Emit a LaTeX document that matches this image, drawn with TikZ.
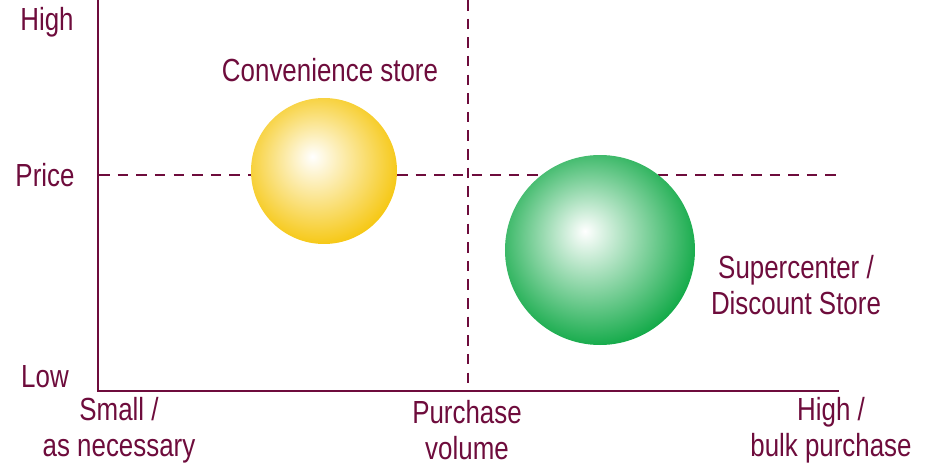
\documentclass[tikz,border=0pt]{standalone}
\usepackage{fontspec}
\setmainfont[FakeStretch=0.81]{Liberation Sans}

\definecolor{vinaccia}{RGB}{110,12,60}
\definecolor{giallo}{RGB}{245,195,0}
\definecolor{verde}{RGB}{0,163,58}

\pgfdeclareradialshading{sferagialla}{\pgfpoint{-4bp}{5bp}}{color(0bp)=(white); color(30bp)=(giallo); color(50bp)=(giallo)}
\pgfdeclareradialshading{sferaverde}{\pgfpoint{-4bp}{5bp}}{color(0bp)=(white); color(30bp)=(verde); color(50bp)=(verde)}

\tikzset{
    etichetta/.style={text=vinaccia, align=center, inner sep=0pt,
        font=\fontsize{9.1}{10.2}\selectfont},
    asse/.style={vinaccia, line width=0.85pt},
    guida/.style={vinaccia, line width=0.6pt, dash pattern=on 3pt off 2.3pt}
}

\begin{document}
\begin{tikzpicture}
        \useasboundingbox (0,0) rectangle (9.37,4.67);

        % Punti degli assi
        \coordinate (O) at (0.98,0.76);
        \coordinate (ytop) at (0.98,4.67);
        \coordinate (xend) at (8.39,0.76);
        \coordinate (vtop) at (4.68,4.67);
        \coordinate (vbot) at (4.68,0.76);
        \coordinate (hsx) at (0.99,2.92);
        \coordinate (hdx) at (8.39,2.92);

        % Linee tratteggiate
        \draw[guida] (vtop) -- (vbot);
        \draw[guida] (hsx) -- (hdx);

        % Sfere
        \shade[shading=sferagialla] (3.24,2.96) circle (0.73);
        \shade[shading=sferaverde] (6.00,2.17) circle (0.95);

        % Assi
        \draw[asse] (ytop) -- (O) -- (xend);

        % Etichette asse y
        \node[etichetta] (alto) at (0.47,4.45) {High};
        \node[etichetta] (prezzo) at (0.45,2.92) {Price};
        \node[etichetta] (basso) at (0.45,0.90) {Low};

        % Etichette asse x
        \node[etichetta] (piccolo) at (1.19,0.37) {Small /\\as necessary};
        \node[etichetta] (volume) at (4.67,0.37) {Purchase\\volume};
        \node[etichetta] (grande) at (8.31,0.37) {High /\\bulk purchase};

        % Negozi
        \node[etichetta] (conv) at (3.30,3.97) {Convenience store};
        \node[etichetta] (super) at (7.96,1.82) {Supercenter /\\Discount Store};

    \end{tikzpicture}
\end{document}
